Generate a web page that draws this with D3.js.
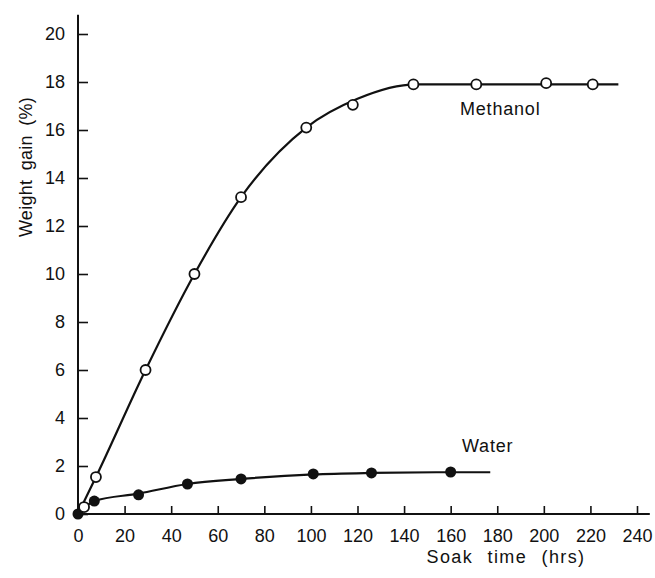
<!DOCTYPE html>
<html>
<head>
<meta charset="utf-8">
<script src="https://cdn.jsdelivr.net/npm/d3@7"></script>
<style>
  body { margin: 0; background: #fff; }
  text { font-family: "Liberation Sans", Arial, sans-serif; fill: #111; }
</style>
</head>
<body>
<svg id="chart" width="655" height="578"></svg>
<script>
// data
const xTicks = [0, 20, 40, 60, 80, 100, 120, 140, 160, 180, 200, 220, 240];
const yTicks = [0, 2, 4, 6, 8, 10, 12, 14, 16, 18, 20];

const methanolHrs = [2.6, 7.7, 29, 50, 70, 98, 118, 144, 171, 201, 221];
const methanolGain = [0.29, 1.54, 6.0, 10.0, 13.2, 16.1, 17.05, 17.9, 17.9, 17.95, 17.9];
// fitted curve drawn in the figure
const methanolFitHrs = [0, 7.7, 29, 50, 70, 98, 120, 145, 171, 201, 232];
const methanolFitGain = [0, 1.54, 6.0, 10.0, 13.2, 16.1, 17.3, 17.9, 17.9, 17.9, 17.9];

const waterHrs = [0, 7, 26, 47, 70, 101, 126, 160];
const waterGain = [0, 0.54, 0.8, 1.25, 1.46, 1.67, 1.71, 1.75];
const waterFitHrs = [0, 7, 26, 47, 70, 101, 126, 160, 177];
const waterFitGain = [0, 0.54, 0.85, 1.25, 1.46, 1.65, 1.71, 1.74, 1.74];

const svg = d3.select('#chart');

const x = d3.scaleLinear().domain([0, 240]).range([78, 637]);
const y = d3.scaleLinear().domain([0, 20]).range([514, 34]);

// axis lines
svg.append('line')
  .attr('x1', x(0)).attr('x2', x(0))
  .attr('y1', y(0)).attr('y2', y(20.8))
  .attr('stroke', '#111').attr('stroke-width', 2);
svg.append('line')
  .attr('x1', x(0) - 1).attr('x2', x(245.5))
  .attr('y1', y(0)).attr('y2', y(0))
  .attr('stroke', '#111').attr('stroke-width', 2);

// Y axis, ticks pointing inward
const gy = svg.append('g')
  .attr('transform', `translate(${x(0)},0)`)
  .call(d3.axisLeft(y).tickValues(yTicks).tickSize(-10).tickPadding(13));
gy.select('.domain').remove();
gy.selectAll('line').attr('stroke', '#111').attr('stroke-width', 1.6);
gy.selectAll('text').attr('font-size', 18).style('fill', '#111');

// X axis
const gx = svg.append('g')
  .attr('transform', `translate(0,${y(0)})`)
  .call(d3.axisBottom(x).tickValues(xTicks).tickSize(-8).tickPadding(15));
gx.select('.domain').remove();
gx.selectAll('line').attr('stroke', '#111').attr('stroke-width', 1.6);
gx.selectAll('text').attr('font-size', 18).style('fill', '#111');

// axis titles
svg.append('text')
  .attr('x', 506).attr('y', 563)
  .attr('text-anchor', 'middle')
  .attr('font-size', 18)
  .attr('letter-spacing', 1.4)
  .attr('word-spacing', 8)
  .text('Soak time (hrs)');

svg.append('text')
  .attr('transform', 'translate(32,167) rotate(-90)')
  .attr('text-anchor', 'middle')
  .attr('font-size', 18)
  .attr('letter-spacing', 0.3)
  .attr('word-spacing', 4)
  .text('Weight gain (%)');

// curves
const line = d3.line()
  .x(d => x(d[0]))
  .y(d => y(d[1]))
  .curve(d3.curveMonotoneX);

svg.append('path')
  .datum(d3.zip(methanolFitHrs, methanolFitGain))
  .attr('d', line)
  .attr('fill', 'none').attr('stroke', '#111').attr('stroke-width', 2.2);

svg.append('path')
  .datum(d3.zip(waterFitHrs, waterFitGain))
  .attr('d', line)
  .attr('fill', 'none').attr('stroke', '#111').attr('stroke-width', 2.2);

// markers
svg.selectAll('.water')
  .data(d3.zip(waterHrs, waterGain))
  .enter().append('circle')
  .attr('class', 'water')
  .attr('cx', d => x(d[0]))
  .attr('cy', d => y(d[1]))
  .attr('r', 5.5)
  .attr('fill', '#111');

svg.selectAll('.methanol')
  .data(d3.zip(methanolHrs, methanolGain))
  .enter().append('circle')
  .attr('class', 'methanol')
  .attr('cx', d => x(d[0]))
  .attr('cy', d => y(d[1]))
  .attr('r', 5)
  .attr('fill', '#fff')
  .attr('stroke', '#111').attr('stroke-width', 1.8);

// series labels
svg.append('text')
  .attr('x', 460).attr('y', 115)
  .attr('font-size', 18).attr('letter-spacing', 0.8)
  .text('Methanol');

svg.append('text')
  .attr('x', 462).attr('y', 452)
  .attr('font-size', 18).attr('letter-spacing', 0.8)
  .text('Water');
</script>
</body>
</html>
